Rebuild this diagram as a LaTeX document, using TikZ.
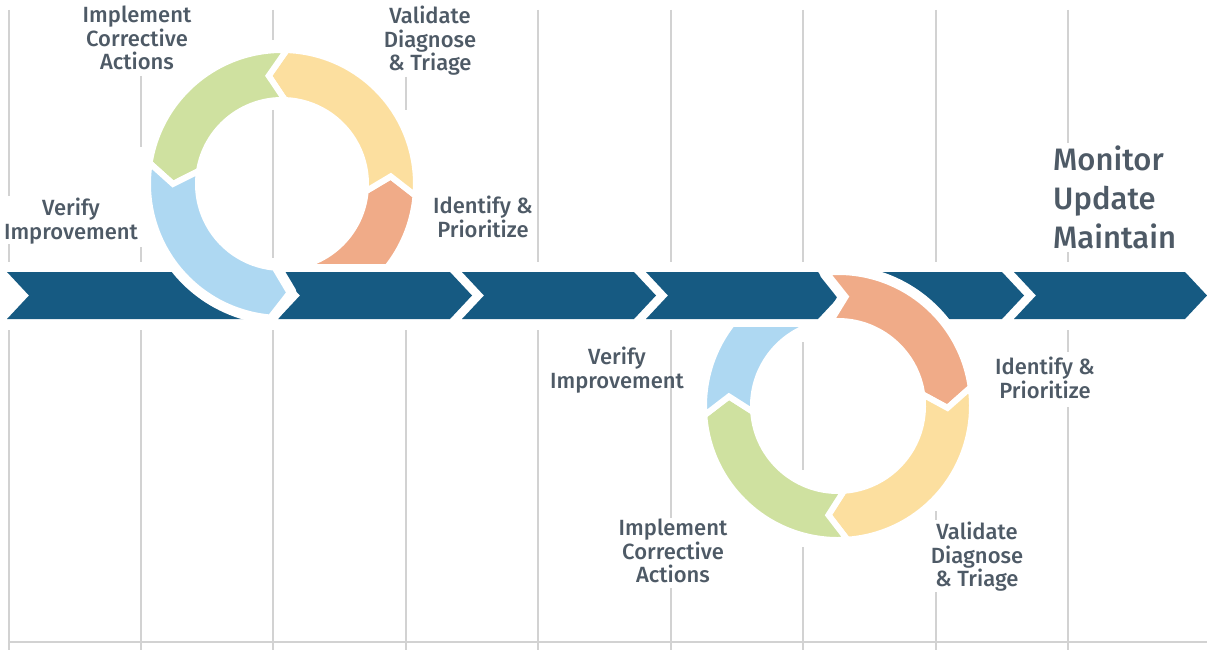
\documentclass[tikz,border=0pt]{standalone}
\usepackage{fontspec}
\setmainfont{Fira Sans}[UprightFont={* Medium}]
\definecolor{bandblue}{HTML}{165A82}
\definecolor{corange}{HTML}{F0AB88}
\definecolor{cyellow}{HTML}{FCDF9F}
\definecolor{cgreen}{HTML}{CFE1A0}
\definecolor{cblue}{HTML}{AED8F2}
\definecolor{labgray}{HTML}{4E5A66}
\definecolor{gridgray}{HTML}{D2D2D2}
% #1 style, #2 centre, #3 start angle, #4 end angle, #5 tip offset, #6 outer r, #7 inner r
\newcommand\ringseg[7]{\path[#1] ([shift={(#2)}]#3:#6) arc[start angle=#3, end angle=#4, radius=#6]
  -- ([shift={(#2)}]{#4+#5}:{(#6+#7)/2}) -- ([shift={(#2)}]#4:#7)
  arc[start angle=#4, end angle=#3, radius=#7]
  -- ([shift={(#2)}]{#3+#5}:{(#6+#7)/2}) -- cycle;}
% #1 left x, #2 right x (top corners)
\newcommand\chevronshape[2]{\fill[bandblue] (#1,272) -- (#2,272) -- ({#2+22},295.5) -- (#2,319) -- (#1,319) -- ({#1+22},295.5) -- cycle;}
\begin{document}
\begin{tikzpicture}[x=1pt,y=-1pt,
  grid/.style={draw=gridgray, line width=1.3pt},
  seg/.style={draw=white, line width=6pt, line join=miter},
  halo/.style={draw=white, line width=14pt, line join=round},
  lab/.style={text=labgray, font=\fontsize{22}{23.5}\selectfont, align=center, inner sep=0pt},
  big/.style={text=labgray, font=\fontsize{31}{39}\selectfont, align=left, inner sep=0pt}]
\useasboundingbox (0,0) rectangle (1207,650);
% background grid lines
\foreach \x/\a/\b in {9/10/196, 9/244/262, 9/330/650,
  141/76/147, 141/247/262, 141/330/650,
  273/10/40, 273/110/258, 273/330/650,
  406/77/110, 406/330/650,
  538/10/262, 538/330/650,
  671/10/262, 671/330/518, 671/588/650,
  803/10/262, 803/342/470, 803/547/650,
  936/10/262, 936/511/520, 936/592/650,
  1068/10/143, 1068/252/262, 1068/330/352, 1068/407/650}
  \draw[grid] (\x,\a) -- (\x,\b);
\draw[grid, line width=2pt] (9,642) -- (1207,642);
% band of chevrons
\chevronshape{7}{266}
\chevronshape{278}{450}
\chevronshape{462}{634}
\chevronshape{646}{818}
\chevronshape{830}{1002}
\chevronshape{1014}{1185}
% left cycle
\coordinate (LC) at (282,184);
\ringseg{halo}{LC}{189}{95}{-9}{134}{84}
\begin{scope}
  \clip (0,0) rectangle (1207,263);
  \ringseg{seg, fill=corange}{LC}{95}{5}{-9}{134}{84}
\end{scope}
\ringseg{seg, fill=cyellow}{LC}{365}{272}{-9}{134}{84}
\ringseg{seg, fill=cgreen}{LC}{272}{189}{-9}{134}{84}
\ringseg{seg, fill=cblue}{LC}{189}{95}{-9}{134}{84}
% right cycle
\coordinate (RC) at (838,406);
\ringseg{halo}{RC}{265}{352}{9}{134}{85}
\ringseg{seg, fill=corange}{RC}{265}{352}{9}{134}{85}
\ringseg{seg, fill=cyellow}{RC}{352}{446}{9}{134}{85}
\ringseg{seg, fill=cgreen}{RC}{86}{176}{9}{134}{85}
\begin{scope}
  \clip (0,327) rectangle (1207,650);
  \ringseg{seg, fill=cblue}{RC}{176}{262}{9}{134}{85}
\end{scope}
% labels
\node[lab] (li) at (137,38) {Implement\\Corrective\\Actions};
\node[lab] (lv) at (430,41) {Validate\\Diagnose\\\& Triage};
\node[lab] (lp) at (483,217) {Identify \&\\Prioritize};
\node[lab] (lr) at (71,221) {Verify\\Improvement};
\node[lab] (rr) at (617,370) {Verify\\Improvement};
\node[lab] (rp) at (1045,378) {Identify \&\\Prioritize};
\node[lab] (ri) at (673,551) {Implement\\Corrective\\Actions};
\node[lab] (rv) at (977,557) {Validate\\Diagnose\\\& Triage};
\node[big, anchor=west] (mon) at (1053,197) {Monitor\\Update\\Maintain};
\end{tikzpicture}
\end{document}
